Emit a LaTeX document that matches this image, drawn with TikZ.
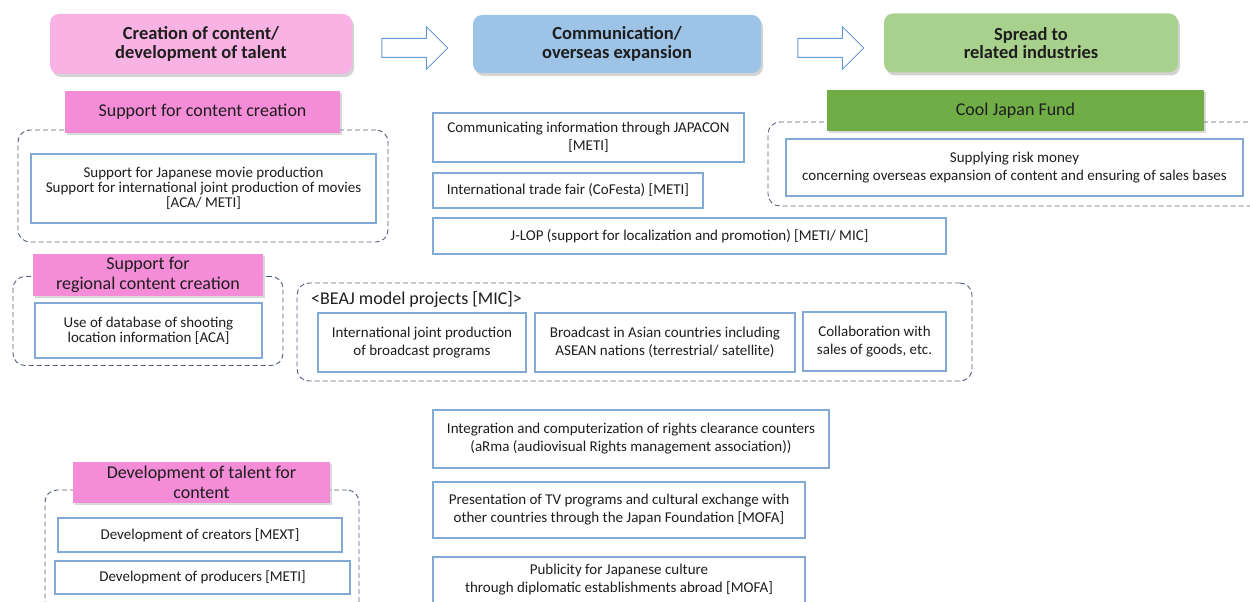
\documentclass[tikz,border=0pt]{standalone}
\usepackage{fontspec}
\setmainfont{Carlito}
\usetikzlibrary{shapes.arrows,shadows}

\definecolor{headpink}{RGB}{249,178,228}
\definecolor{barpink}{RGB}{245,140,216}
\definecolor{headblue}{RGB}{157,195,230}
\definecolor{headgreen}{RGB}{169,209,142}
\definecolor{bargreen}{RGB}{112,173,71}
\definecolor{itemblue}{RGB}{130,170,215}
\definecolor{arrowblue}{RGB}{100,155,213}
\definecolor{groupgray}{RGB}{80,95,120}
\definecolor{inkgray}{RGB}{30,30,30}

\begin{document}
\begin{tikzpicture}[
x=1pt,y=-1pt,
font=\fontsize{15}{18}\selectfont,
text=inkgray,
head/.style={rectangle,rounded corners=9pt,align=center,
  font=\fontsize{18.5}{18.5}\selectfont\bfseries,
  drop shadow={shadow xshift=2pt,shadow yshift=-3pt,opacity=0.35}},
bar/.style={rectangle,align=center,font=\fontsize{18}{20}\selectfont,
  drop shadow={shadow xshift=2pt,shadow yshift=-2pt,opacity=0.3}},
item/.style={rectangle,draw=itemblue,line width=1.1pt,fill=white,align=center,inner sep=2pt},
tight/.style={font=\fontsize{15}{15}\selectfont},
group/.style={rectangle,draw=groupgray,dash pattern=on 5pt off 3pt,line width=0.9pt,rounded corners=12pt},
flow/.style={single arrow,draw=arrowblue,line width=1pt,fill=white,
  minimum width=42,minimum height=66,inner sep=9pt,single arrow head extend=12pt}
]
\useasboundingbox (0,0) rectangle (1250,602);

% Draw headers and arrows
\node [head,fill=headpink,minimum width=302,minimum height=60] (creation) at (201,44) {Creation of content/\\development of talent};
\node [head,fill=headblue,minimum width=288,minimum height=58] (communication) at (617,44) {Communication/\\overseas expansion};
\node [head,fill=headgreen,minimum width=294,minimum height=59] (spread) at (1031,43) {Spread to\\related industries};

\node [flow] (arrowA) at (410,48) {};
\node [flow] (arrowB) at (826,48) {};

% Draw dashed groups
\node [group,minimum width=370,minimum height=112] (grpcontent) at (203,186) {};
\node [group,minimum width=270,minimum height=89] (grpregional) at (148,321) {};
\node [group,minimum width=675,minimum height=98] (grpbeaj) at (634.5,332) {};
\node [group,minimum width=500,minimum height=84] (grpfund) at (1018,164) {};
\node [group,minimum width=314,minimum height=140] (grptalent) at (202,560) {};

% Draw bars
\node [bar,fill=barpink,minimum width=275,minimum height=42] (barcontent) at (202.5,112) {Support for content creation};
\node [bar,fill=barpink,minimum width=230,minimum height=40] (barregional) at (148,275) {Support for\\regional content creation};
\node [bar,fill=barpink,minimum width=257,minimum height=41] (bartalent) at (201.5,482.5) {Development of talent for\\content};
\node [bar,fill=bargreen,minimum width=377,minimum height=41] (barfund) at (1015.5,110.5) {Cool Japan Fund};

% Draw items: left column
\node [item,tight,minimum width=345,minimum height=69] (movie) at (203.5,188.5) {Support for Japanese movie production\\Support for international joint production of movies\\{[ACA/ METI]}};
\node [item,tight,minimum width=227,minimum height=55] (database) at (148.5,330.5) {Use of database of shooting\\location information [ACA]};
\node [item,minimum width=284,minimum height=34] (creators) at (200,535) {Development of creators [MEXT]};
\node [item,minimum width=295,minimum height=33] (producers) at (202.5,577.5) {Development of producers [METI]};

% Draw items: middle column
\node [item,minimum width=311,minimum height=49] (japacon) at (588.5,137.5) {Communicating information through JAPACON\\{[METI]}};
\node [item,minimum width=270,minimum height=35] (cofesta) at (568,190.5) {International trade fair (CoFesta) [METI]};
\node [item,minimum width=513,minimum height=36] (jlop) at (689.5,236) {J-LOP (support for localization and promotion) [METI/ MIC]};

\node [anchor=west,font=\fontsize{18}{20}\selectfont,inner sep=0pt] (beaj) at (311,300) {<BEAJ model projects [MIC]>};
\node [item,minimum width=208,minimum height=59] (jointprod) at (422,342.5) {International joint production\\of broadcast programs};
\node [item,minimum width=260,minimum height=59] (broadcast) at (665,342.5) {Broadcast in Asian countries including\\ASEAN nations (terrestrial/ satellite)};
\node [item,minimum width=143,minimum height=59] (goods) at (874.5,341.5) {Collaboration with\\sales of goods, etc.};

\node [item,minimum width=396,minimum height=58] (arma) at (631,439) {Integration and computerization of rights clearance counters\\(aRma (audiovisual Rights management association))};
\node [item,minimum width=372,minimum height=56] (foundation) at (619,510) {Presentation of TV programs and cultural exchange with\\other countries through the Japan Foundation [MOFA]};
\node [item,minimum width=372,minimum height=46] (publicity) at (619,580) {Publicity for Japanese culture\\through diplomatic establishments abroad [MOFA]};

% Draw items: right column
\node [item,minimum width=457,minimum height=57] (riskmoney) at (1014.5,167.5) {Supplying risk money\\concerning overseas expansion of content and ensuring of sales bases};

\end{tikzpicture}
\end{document}
